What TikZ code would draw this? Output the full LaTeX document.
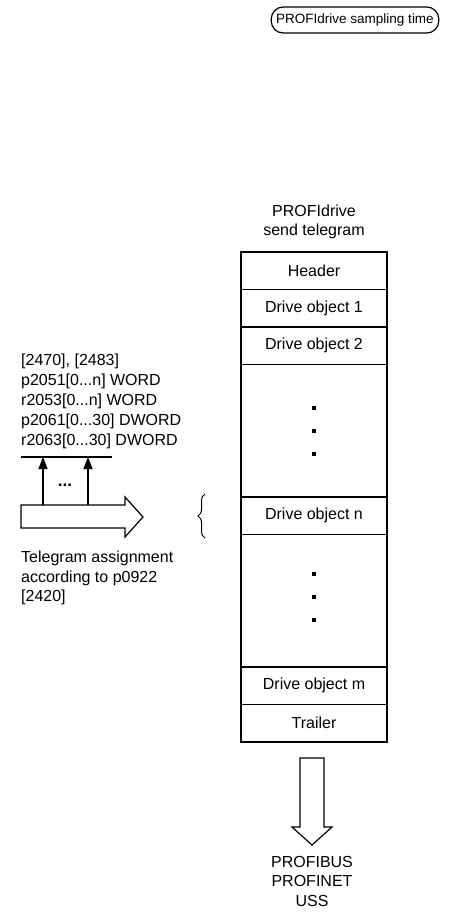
\documentclass[tikz,border=0pt]{standalone}
\usepackage{fontspec}
\setmainfont{Liberation Sans}
\usetikzlibrary{positioning,calc,arrows.meta,decorations.pathreplacing}
\tikzset{
  cell/.style={draw, line width=1.2pt, minimum width=146pt, minimum height=37.5pt, inner sep=0pt, outer sep=0pt},
  gap/.style={cell, minimum height=132.5pt},
  lbl/.style={inner sep=0pt, align=left},
  dotsq/.style={fill=black, inner sep=0pt, minimum size=3.5pt}
}
\begin{document}
\begin{tikzpicture}[x=1pt, y=-1pt, font=\fontsize{16}{19.5}\selectfont]
\useasboundingbox (0,0) rectangle (450,913);

% sampling time
\node[draw, line width=1.2pt, rounded corners=12pt, minimum height=26pt, inner xsep=5pt, font=\fontsize{13.5}{16}\selectfont] (tsamp) at (355,20) {PROFIdrive sampling time};

% telegram
\node[lbl, align=center] (title) at (314,222) {PROFIdrive\\send telegram};
\node[cell, anchor=north] (header) at (314,252) {Header};
\node[cell, below=0pt of header] (do1) {Drive object 1};
\node[cell, below=0pt of do1] (do2) {Drive object 2};
\node[gap, below=0pt of do2] (gap1) {};
\node[cell, below=0pt of gap1] (don) {Drive object n};
\node[gap, below=0pt of don] (gap2) {};
\node[cell, below=0pt of gap2] (dom) {Drive object m};
\node[cell, below=0pt of dom] (trailer) {Trailer};
\foreach \y in {-23,0,23} {
  \node[dotsq] at ($(gap1.center)+(0,\y)$) {};
  \node[dotsq] at ($(gap2.center)+(0,\y-4)$) {};
}

% brace
\draw[line width=1pt, decorate, decoration={brace, amplitude=7pt}]
  (205,538) -- (205,494);

% interconnection
\node[lbl, anchor=north west, font=\fontsize{16}{20}\selectfont] (params) at (21,354) {[2470], [2483]\\p2051[0...n] WORD\\r2053[0...n] WORD\\p2061[0...30] DWORD\\r2063[0...30] DWORD};
\coordinate (bar l) at (21,457);
\coordinate (bar r) at (112,457);
\draw[line width=1.2pt] (bar l) -- (bar r);
\draw[line width=1.2pt] (21,505) -- (125,505) -- (125,497) -- (143,517) -- (125,537) -- (125,528) -- (21,528) -- cycle;
\coordinate (in1) at (43,505);
\coordinate (in2) at (88,505);
\draw[line width=1.2pt, -{Triangle[length=12pt, width=9pt]}] (in1) -- (in1 |- bar l);
\draw[line width=1.2pt, -{Triangle[length=12pt, width=9pt]}] (in2) -- (in2 |- bar l);
\node[font=\bfseries\fontsize{17}{19}\selectfont] (dots) at (65,485) {...};
\node[lbl, anchor=north west] (assign) at (21,551) {Telegram assignment\\according to p0922\\{[2420]}};

% output
\draw[line width=1.2pt] (300,758) -- (324,758) -- (324,827) -- (332,827) -- (312,845) -- (292,827) -- (300,827) -- cycle;
\node[lbl, align=center, anchor=north] (bus) at (312,856) {PROFIBUS\\PROFINET\\USS};
\end{tikzpicture}
\end{document}
